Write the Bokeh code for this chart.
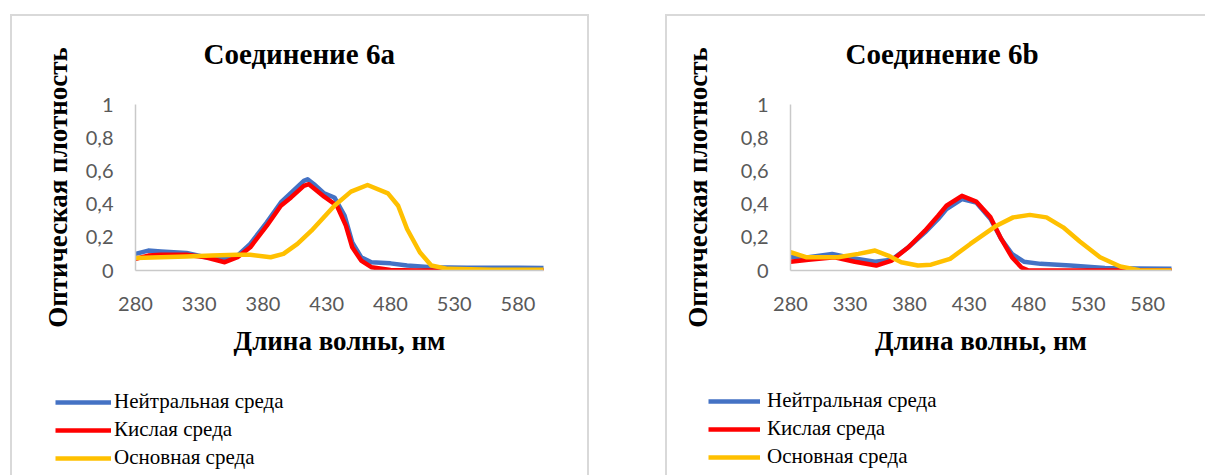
from bokeh.plotting import figure
from bokeh.layouts import row, column
from bokeh.models import (Range1d, FixedTicker, CustomJSTickFormatter,
                          Legend, LegendItem)
from bokeh.embed import file_html
from bokeh.resources import INLINE

# Absorption spectra, compound 6a
wl_6a_neutral = [280, 290, 300, 310, 320, 335, 350, 360, 370, 383, 394, 403, 412, 415, 420,
                 428, 436, 444, 450, 457, 465, 480, 493, 512, 540, 560, 580, 600]
od_6a_neutral = [0.10, 0.12, 0.115, 0.11, 0.105, 0.08, 0.07, 0.09, 0.16, 0.29, 0.41, 0.475, 0.54, 0.55, 0.52,
                 0.465, 0.44, 0.33, 0.17, 0.08, 0.05, 0.043, 0.03, 0.02, 0.017, 0.017, 0.016, 0.015]

wl_6a_acid = [280, 290, 300, 320, 335, 350, 360, 370, 383, 394, 402, 412, 416, 428, 438,
              445, 450, 457, 465, 480, 500, 600]
od_6a_acid = [0.07, 0.09, 0.095, 0.095, 0.08, 0.05, 0.08, 0.14, 0.27, 0.39, 0.44, 0.51, 0.52, 0.445, 0.39,
              0.27, 0.14, 0.06, 0.02, 0.003, 0.0, 0.0]

wl_6a_base = [280, 300, 320, 340, 360, 370, 386, 396, 407, 418, 436, 449, 462, 478, 486,
              493, 503, 512, 525, 560, 600]
od_6a_base = [0.075, 0.08, 0.085, 0.09, 0.095, 0.095, 0.08, 0.10, 0.16, 0.24, 0.39, 0.475, 0.515, 0.465, 0.39,
              0.25, 0.11, 0.03, 0.01, 0.005, 0.005]

# Absorption spectra, compound 6b
wl_6b_neutral = [280, 295, 315, 331, 351, 365, 379, 393, 404, 411, 424, 436, 448, 457, 466,
                 476, 490, 515, 544, 570, 600]
od_6b_neutral = [0.08, 0.08, 0.10, 0.075, 0.053, 0.065, 0.14, 0.23, 0.31, 0.37, 0.43, 0.41, 0.31, 0.19, 0.10,
                 0.053, 0.04, 0.03, 0.015, 0.012, 0.01]

wl_6b_acid = [280, 295, 317, 334, 352, 365, 379, 393, 404, 411, 424, 436, 448, 457, 466,
              474, 480, 500, 600]
od_6b_acid = [0.053, 0.065, 0.08, 0.053, 0.03, 0.06, 0.14, 0.24, 0.33, 0.39, 0.45, 0.415, 0.32, 0.19, 0.08,
              0.018, 0.0, 0.0, 0.0]

wl_6b_base = [280, 293, 320, 337, 351, 362, 373, 387, 398, 414, 431, 453, 467, 481, 495,
              509, 523, 540, 557, 573, 600]
od_6b_base = [0.11, 0.08, 0.08, 0.10, 0.12, 0.09, 0.05, 0.03, 0.035, 0.07, 0.16, 0.27, 0.32, 0.335, 0.32,
              0.26, 0.175, 0.08, 0.024, 0.002, 0.0]

x_ticks = [280, 330, 380, 430, 480, 530, 580]
y_ticks = [0, 0.2, 0.4, 0.6, 0.8, 1.0]
series_names = ["Нейтральная среда", "Кислая среда", "Основная среда"]
series_colors = ["#4472C4", "#FF0000", "#FFC000"]

SERIF = "Liberation Serif"
TICK_FONT = "Lato"
BOX_COLOR = "#D9D9D9"
CHART_H = 380
LEGEND_H = 95
LINE_W = 4.5


def box_background(segments):
    """CSS background that paints thin grey strips (x, y, w, h) behind the canvas."""
    grad = f"linear-gradient({BOX_COLOR}, {BOX_COLOR})"
    return {
        "background-color": "white",
        "background-image": ", ".join([grad] * len(segments)),
        "background-size": ", ".join(f"{w}px {h}px" for _, _, w, h in segments),
        "background-position": ", ".join(f"{x}px {y}px" for x, y, _, _ in segments),
        "background-repeat": "no-repeat",
    }


def make_chart(title, series, width, frame_left, frame_right, frame_bottom,
               title_offset, ylab_standoff, box_segments):
    p = figure(width=width, height=CHART_H, output_backend="svg", toolbar_location=None,
               x_range=Range1d(280, 600), y_range=Range1d(0, 1),
               min_border_left=frame_left, min_border_right=width - frame_right,
               min_border_top=103, min_border_bottom=CHART_H - frame_bottom,
               styles=box_background(box_segments))
    p.outline_line_color = None
    p.background_fill_color = None
    p.border_fill_color = None
    p.xgrid.visible = False
    p.ygrid.visible = False

    p.title.text = title
    p.title.text_font = SERIF
    p.title.text_font_style = "bold"
    p.title.text_font_size = "29px"
    p.title.text_color = "black"
    p.title.align = "left"
    p.title.offset = title_offset
    p.title.vertical_align = "bottom"
    p.title.standoff = 70

    for ax in (p.xaxis[0], p.yaxis[0]):
        ax.axis_line_color = "#C9C9C9"
        ax.axis_line_width = 1.5
        ax.major_tick_line_color = None
        ax.minor_tick_line_color = None
        ax.major_tick_out = 0
        ax.major_tick_in = 0
        ax.major_label_text_font = TICK_FONT
        ax.major_label_text_font_size = "20px"
        ax.major_label_text_color = "#595959"
        ax.axis_label_text_font = SERIF
        ax.axis_label_text_font_style = "bold"
        ax.axis_label_text_font_size = "27px"
        ax.axis_label_text_color = "black"

    p.xaxis.ticker = FixedTicker(ticks=x_ticks)
    p.yaxis.ticker = FixedTicker(ticks=y_ticks)
    p.yaxis.formatter = CustomJSTickFormatter(
        code="return (Math.round(tick * 10) / 10).toString().replace('.', ',');")
    p.xaxis.axis_label = "Длина волны, нм"
    p.yaxis.axis_label = "Оптическая плотность"
    p.xaxis.major_label_standoff = 26
    p.yaxis.major_label_standoff = 22
    p.xaxis.axis_label_standoff = 12
    p.yaxis.axis_label_standoff = ylab_standoff

    for (wl, od), color in zip(series, series_colors):
        p.line(wl, od, line_color=color, line_width=LINE_W, line_join="round", line_cap="round")
    return p


def make_key_strip(width, keys, box_segments):
    """Strip under both charts holding the series keys."""
    lf = figure(width=width, height=LEGEND_H, output_backend="svg", toolbar_location=None,
                x_range=Range1d(0, 1), y_range=Range1d(0, 1),
                x_axis_location=None, y_axis_location=None,
                min_border_left=0, min_border_right=0, min_border_top=0, min_border_bottom=0,
                styles=box_background(box_segments))
    lf.outline_line_color = None
    lf.background_fill_color = None
    lf.border_fill_color = None
    lf.xgrid.visible = False
    lf.ygrid.visible = False
    # key samples only; their points lie outside the strip's ranges
    samples = [lf.line(x=[2, 3], y=[2, 2], line_color=color, line_width=LINE_W, line_cap="butt")
               for color in series_colors]
    for loc, glyph_w, standoff in keys:
        items = [LegendItem(label=name, renderers=[r]) for name, r in zip(series_names, samples)]
        legend = Legend(items=items, location=loc, orientation="vertical",
                        glyph_width=glyph_w, glyph_height=20, label_height=20,
                        label_standoff=standoff, spacing=3, padding=0, margin=0,
                        border_line_color=None, background_fill_alpha=0,
                        label_text_font=SERIF, label_text_font_size="21px",
                        label_text_color="black")
        lf.add_layout(legend)
    return lf


p1 = make_chart("Соединение  6а",
                [(wl_6a_neutral, od_6a_neutral), (wl_6a_acid, od_6a_acid), (wl_6a_base, od_6a_base)],
                width=600, frame_left=135, frame_right=543, frame_bottom=270,
                title_offset=68, ylab_standoff=10,
                box_segments=[(10, 14, 579, 2), (10, 14, 2, CHART_H), (587, 14, 2, CHART_H)])

p2 = make_chart("Соединение  6b",
                [(wl_6b_neutral, od_6b_neutral), (wl_6b_acid, od_6b_acid), (wl_6b_base, od_6b_base)],
                width=605, frame_left=190, frame_right=571, frame_bottom=270,
                title_offset=55, ylab_standoff=25,
                box_segments=[(65, 14, 540, 2), (65, 14, 2, CHART_H)])

keys = make_key_strip(1205, [((55, 5), 56, 3), ((708, 6), 52, 7)],
                      [(10, 0, 2, LEGEND_H), (587, 0, 2, LEGEND_H), (665, 0, 2, LEGEND_H)])

layout = column(row(p1, p2, spacing=0), keys, spacing=0)
open("out.html", "w").write(file_html(layout, INLINE))
